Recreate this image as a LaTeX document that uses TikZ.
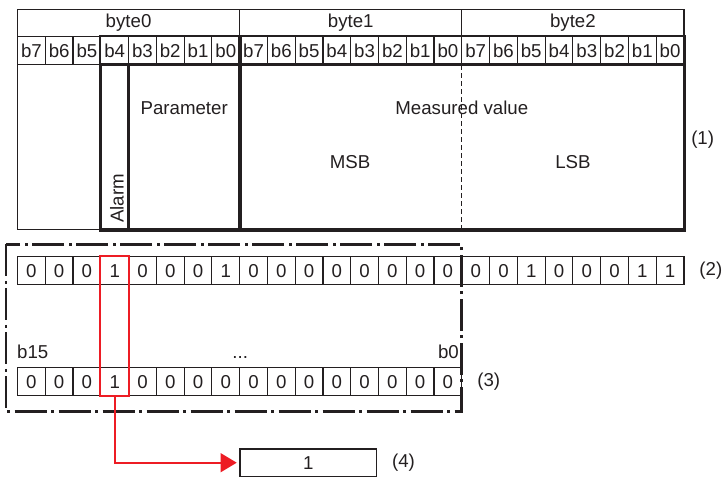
\documentclass[tikz,border=0pt]{standalone}
\usepackage{fontspec}
\setmainfont{Liberation Sans}
\usepackage{tikz}
\usetikzlibrary{arrows.meta, positioning, fit}
\definecolor{ink}{RGB}{35,31,32}
\definecolor{selred}{RGB}{237,28,36}

\begin{document}
\begin{tikzpicture}[x=0.75pt,y=-0.75pt,
    cell/.style={draw=ink,line width=0.85pt,minimum width=20.83pt,
      minimum height=21pt,inner sep=0pt,text=ink,font=\fontsize{14}{16}\selectfont},
    bytecell/.style={cell,minimum width=166.6pt,minimum height=20.25pt},
    field/.style={cell,minimum height=123.75pt},
    heavy/.style={draw=ink,line width=1.8pt},
    txt/.style={text=ink,inner sep=0pt,font=\fontsize{14}{16}\selectfont},
    chain/.style={draw=ink,line width=1.9pt,
      dash pattern=on 24pt off 3.5pt on 2pt off 3.5pt},
    selbox/.style={draw=selred,line width=1.5pt,inner sep=0pt},
    arrow/.style={-{Triangle[length=12pt,width=14pt]},selred,line width=1.5pt},
  ]
  \useasboundingbox (0,0) rectangle (722,477);

  % Byte header row
  \foreach \j in {0,1,2}
    \node[bytecell] (byte\j) at ({17.5+27.77*(8*\j+4)},23) {byte\j};

  % Bit titles, b7..b0 for every byte
  \foreach \i in {0,...,23}{
    \pgfmathtruncatemacro{\k}{7-mod(\i,8)}
    \node[cell] (t\i) at ({17.5+27.77*(\i+0.5)},50.5) {b\k};
  }

  % Field body (1)
  \node[field,minimum width=62.5pt] (rsv) at (59.2,147) {};
  \node[field,heavy,minimum width=20.83pt] (alarm) at (114.6,147) {};
  \node[field,heavy,minimum width=83.3pt] (param) at (184.2,147) {};
  \node[field,heavy,minimum width=333.2pt] (meas) at (461.85,147) {};
  \draw[heavy] (t3.north west) rectangle (param.south east);
  \draw[heavy] (t8.north west) rectangle (meas.south east);
  \draw[ink,line width=0.85pt,dash pattern=on 3.75pt off 2.25pt]
    (t16.south west) -- (t16.west |- meas.south);

  \node[txt] (paramtxt) at (184.2,108) {Parameter};
  \node[txt,rotate=90,anchor=west] (alarmtxt) at (117,223) {Alarm};
  \node[txt] (meastxt) at (461.8,108) {Measured value};
  \node[txt] (msb) at (350,162) {MSB};
  \node[txt] (lsb) at (573,162) {LSB};
  \node[txt,anchor=west] (lbl1) at (691,140) {(1)};

  % Received data (2)
  \foreach \v [count=\n from 0] in {0,0,0,1,0,0,0,1,0,0,0,0,0,0,0,0,0,0,1,0,0,0,1,1}
    \node[cell] (r\n) at ({17.5+27.77*(\n+0.5)},270.8) {\v};
  \node[txt,right=11pt of r23] (lbl2) {(2)};

  % 16-bit word (3)
  \foreach \v [count=\n from 0] in {0,0,0,1,0,0,0,0,0,0,0,0,0,0,0,0}
    \node[cell] (s\n) at ({17.5+27.77*(\n+0.5)},381.7) {\v};
  \node[txt,above right=6pt and 0pt of s0.north west] (hibit) {b15};
  \node[txt,above=6pt of s7.north east] (dots) {...};
  \node[txt,above left=6pt and 2.5pt of s15.north east] (lobit) {b0};
  \node[txt,right=11pt of s15] (lbl3) {(3)};

  % Word group
  \draw[chain] (6,244.3) rectangle (461.7,411.7);

  % Alarm bit out (4)
  \node[cell,minimum width=102.5pt,minimum height=20.6pt] (res) at (308.3,462.7) {1};
  \node[txt,right=11pt of res] (lbl4) {(4)};
  \node[selbox,fit=(r3)(s3)] (sel) {};
  \draw[arrow,shorten >=2pt] (sel.south) |- (res.west);
\end{tikzpicture}
\end{document}
